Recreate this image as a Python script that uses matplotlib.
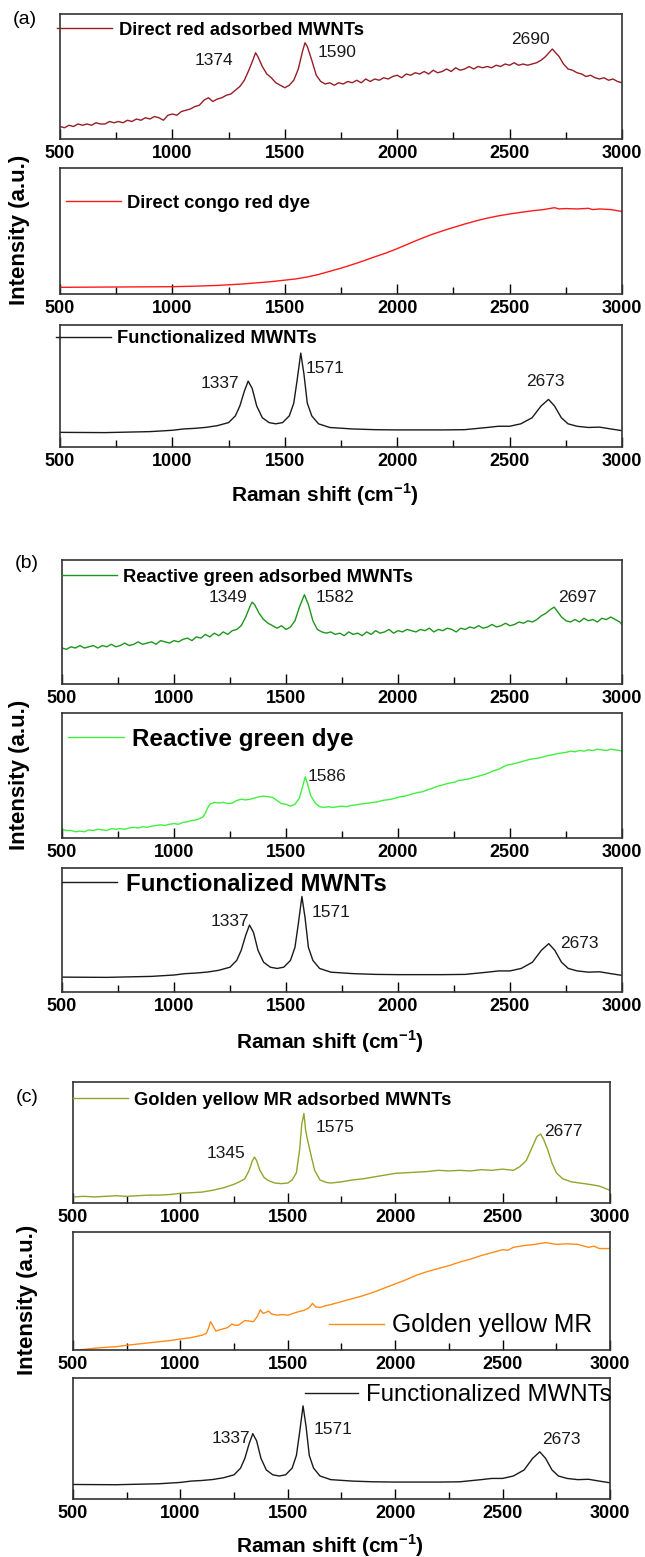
import matplotlib
matplotlib.use('Agg')
import matplotlib.pyplot as plt
from matplotlib.ticker import MultipleLocator

plt.rcParams['font.family'] = ['Liberation Sans', 'DejaVu Sans']
plt.rcParams['mathtext.fontset'] = 'custom'
plt.rcParams['mathtext.rm'] = 'Liberation Sans'
plt.rcParams['mathtext.bf'] = 'Liberation Sans:bold'

# ---------------- data (intensity in % of panel height) ----------------
direct_red_mwnt = [
    (500, 10), (520, 9), (540, 11), (560, 10), (580, 12), (600, 11), (620, 12), (640, 11),
    (660, 13), (680, 12), (700, 12), (720, 14), (740, 13), (760, 14), (780, 13), (800, 15),
    (820, 14), (840, 16), (860, 15), (880, 17), (900, 16), (920, 18), (940, 17), (960, 15),
    (980, 19), (1000, 20), (1020, 19), (1040, 22), (1060, 23), (1080, 24), (1100, 26),
    (1120, 27), (1140, 31), (1160, 33), (1180, 30), (1200, 32), (1220, 33), (1240, 35),
    (1260, 36), (1280, 39), (1300, 42), (1320, 47), (1340, 55), (1360, 64), (1370, 69),
    (1380, 66), (1400, 58), (1420, 52), (1440, 49), (1460, 45), (1480, 43), (1500, 41),
    (1520, 43), (1540, 47), (1560, 56), (1580, 71), (1590, 77), (1600, 74), (1620, 63),
    (1640, 51), (1660, 46), (1680, 44), (1700, 45), (1720, 43), (1740, 45), (1760, 44),
    (1780, 46), (1800, 45), (1820, 47), (1840, 45), (1860, 48), (1880, 46), (1900, 48),
    (1920, 47), (1940, 49), (1960, 48), (1980, 50), (2000, 51), (2020, 49), (2040, 52),
    (2060, 51), (2080, 53), (2100, 52), (2120, 54), (2140, 52), (2160, 55), (2180, 53),
    (2200, 54), (2220, 56), (2240, 54), (2260, 57), (2280, 55), (2300, 56), (2320, 58),
    (2340, 56), (2360, 58), (2380, 57), (2400, 58), (2420, 57), (2440, 59), (2460, 58),
    (2480, 60), (2500, 59), (2520, 61), (2540, 59), (2560, 60), (2580, 59), (2600, 60),
    (2620, 61), (2640, 63), (2660, 66), (2680, 70), (2690, 72), (2700, 70), (2720, 66),
    (2740, 60), (2760, 56), (2780, 55), (2800, 53), (2820, 52), (2840, 50), (2860, 51),
    (2880, 49), (2900, 48), (2920, 49), (2940, 47), (2960, 48), (2980, 46), (3000, 45),
]

congo_red_dye = [
    (500, 5.3), (600, 5.4), (700, 5.5), (800, 5.6), (900, 5.7), (1000, 5.8), (1100, 6.2),
    (1200, 6.8), (1300, 7.8), (1400, 9.2), (1450, 10), (1500, 11), (1550, 12), (1600, 13.5),
    (1650, 15.5), (1700, 18), (1750, 20.5), (1800, 23.3), (1850, 26.3), (1900, 29.5),
    (1950, 32.5), (2000, 36), (2050, 39.8), (2100, 43.5), (2150, 47), (2200, 50),
    (2250, 52.8), (2300, 55.5), (2350, 58), (2400, 60.2), (2450, 62), (2500, 63.5),
    (2550, 64.8), (2600, 66), (2650, 67), (2700, 68.5), (2720, 67.5), (2750, 67.8),
    (2800, 67.5), (2850, 68), (2870, 67), (2900, 67.5), (2950, 67), (3000, 65.5),
]

functionalized_mwnt = [
    (500, 12), (700, 11.8), (900, 12.6), (1000, 13.7), (1050, 14.8), (1100, 15.3),
    (1150, 16.1), (1200, 17.5), (1250, 20), (1280, 25.5), (1300, 33.6), (1320, 45.7),
    (1337, 54), (1355, 48), (1375, 33.6), (1400, 24), (1430, 20), (1460, 19), (1490, 20),
    (1520, 25.5), (1540, 36), (1555, 55), (1571, 77), (1585, 60), (1600, 36), (1620, 25.5),
    (1650, 19), (1700, 16), (1800, 14.8), (1900, 14.2), (2000, 14), (2100, 14), (2200, 14),
    (2300, 14.2), (2400, 16), (2450, 17), (2500, 17), (2550, 19), (2600, 24), (2640, 33.6),
    (2673, 39), (2700, 33.6), (2730, 24), (2760, 19), (2800, 17), (2850, 16), (2900, 16.3),
    (2950, 14.8), (3000, 13.4),
]

reactive_green_mwnt = [
    (500, 29), (520, 28), (540, 30), (560, 29), (580, 31), (600, 29), (620, 30), (640, 31),
    (660, 29), (680, 31), (700, 30), (720, 32), (740, 30), (760, 31), (780, 33), (800, 31),
    (820, 32), (840, 34), (860, 32), (880, 33), (900, 34), (920, 32), (940, 35), (960, 34),
    (980, 33), (1000, 35), (1020, 34), (1040, 36), (1060, 37), (1080, 35), (1100, 38),
    (1120, 37), (1140, 40), (1160, 38), (1180, 41), (1200, 39), (1220, 42), (1240, 40),
    (1260, 43), (1280, 44), (1300, 47), (1320, 54), (1340, 63), (1349, 66), (1360, 64),
    (1380, 57), (1400, 52), (1420, 49), (1440, 47), (1460, 45), (1480, 47), (1500, 44),
    (1520, 46), (1540, 51), (1560, 62), (1582, 72), (1600, 64), (1620, 51), (1640, 44),
    (1660, 42), (1680, 41), (1700, 42), (1720, 40), (1740, 41), (1760, 39), (1780, 42),
    (1800, 40), (1820, 41), (1840, 39), (1860, 42), (1880, 40), (1900, 43), (1920, 41),
    (1940, 42), (1960, 44), (1980, 41), (2000, 43), (2020, 42), (2040, 44), (2060, 43),
    (2080, 42), (2100, 44), (2120, 43), (2140, 45), (2160, 42), (2180, 44), (2200, 43),
    (2220, 45), (2240, 44), (2260, 42), (2280, 45), (2300, 44), (2320, 46), (2340, 45),
    (2360, 47), (2380, 45), (2400, 46), (2420, 48), (2440, 46), (2460, 47), (2480, 49),
    (2500, 47), (2520, 48), (2540, 50), (2560, 49), (2580, 51), (2600, 50), (2620, 52),
    (2640, 55), (2660, 57), (2680, 60), (2697, 62), (2710, 59), (2730, 54), (2750, 51),
    (2770, 50), (2790, 52), (2810, 50), (2830, 53), (2850, 51), (2870, 52), (2890, 50),
    (2910, 53), (2930, 52), (2950, 54), (2970, 52), (2990, 50), (3000, 48),
]

reactive_green_dye = [
    (500, 7), (520, 6), (540, 6), (560, 5), (580, 5.5), (600, 5), (620, 6.5), (640, 6),
    (660, 7), (680, 6.5), (700, 6), (720, 7.5), (740, 7), (760, 7.5), (780, 7), (800, 8),
    (820, 8.5), (840, 8), (860, 9), (880, 8.5), (900, 9.5), (920, 10), (940, 10.5),
    (960, 10), (980, 11), (1000, 11.5), (1020, 11), (1040, 12.5), (1060, 13), (1080, 14),
    (1100, 14.5), (1120, 16), (1130, 17), (1140, 20), (1150, 24), (1160, 27), (1180, 28.5),
    (1200, 28), (1220, 28.5), (1240, 27.5), (1260, 28), (1280, 30), (1300, 31),
    (1320, 30.5), (1340, 31), (1360, 32), (1380, 33), (1400, 33.5), (1420, 33),
    (1440, 32.5), (1460, 30), (1480, 27.5), (1500, 27), (1520, 25.5), (1540, 27),
    (1560, 32), (1575, 42), (1586, 49), (1595, 44), (1610, 34), (1630, 28), (1650, 25),
    (1670, 24.5), (1690, 25), (1710, 24.5), (1730, 25), (1750, 25.5), (1770, 25),
    (1790, 26), (1810, 26.5), (1830, 27), (1850, 27.5), (1870, 28), (1890, 28.5),
    (1910, 29), (1930, 30), (1950, 30.5), (1970, 31), (1990, 32), (2010, 33), (2030, 33.5),
    (2050, 34.5), (2070, 35.5), (2090, 36.5), (2110, 37), (2130, 38.5), (2150, 39.5),
    (2170, 41), (2190, 42), (2210, 43), (2230, 44), (2250, 44.5), (2270, 46), (2290, 46.5),
    (2310, 47), (2330, 48), (2350, 49), (2370, 50), (2390, 51), (2410, 52.5), (2430, 54),
    (2450, 55), (2470, 57), (2490, 58.5), (2510, 59), (2530, 60), (2550, 61), (2570, 62),
    (2590, 63), (2610, 63.5), (2630, 64), (2650, 65), (2670, 66), (2690, 66.5),
    (2710, 67.5), (2730, 68), (2750, 68.5), (2770, 69.5), (2790, 69), (2810, 70),
    (2830, 69.5), (2850, 70.5), (2870, 70), (2890, 71), (2910, 70.5), (2930, 70),
    (2950, 71), (2970, 70.5), (2990, 70), (3000, 69.5),
]

golden_yellow_mwnt = [
    (500, 5), (550, 5.5), (600, 5), (650, 5.5), (700, 6), (750, 5.5), (800, 6), (850, 6.5),
    (900, 6.5), (950, 7), (1000, 8), (1050, 8.5), (1100, 9), (1150, 10.5), (1200, 12.5),
    (1250, 15.5), (1280, 18), (1300, 20), (1320, 27), (1335, 35), (1345, 38), (1355, 35),
    (1370, 27), (1390, 21), (1410, 18.5), (1440, 16.5), (1470, 16), (1500, 16.5),
    (1520, 19), (1540, 25), (1555, 44), (1565, 65), (1575, 74), (1583, 60), (1592, 52),
    (1600, 46), (1610, 38), (1625, 27), (1650, 19), (1680, 17), (1700, 16.5), (1750, 17.5),
    (1800, 19), (1850, 20), (1900, 21.5), (1950, 23), (2000, 24.5), (2050, 25), (2100, 25.5),
    (2150, 26), (2200, 27), (2250, 26.5), (2300, 27), (2350, 26.5), (2400, 27.5),
    (2450, 27), (2500, 28), (2550, 27), (2580, 30), (2610, 35), (2635, 45), (2660, 55),
    (2677, 57), (2690, 53), (2710, 44), (2730, 33), (2750, 25), (2780, 20), (2820, 17.5),
    (2860, 16.5), (2900, 15.5), (2950, 14), (3000, 10.5),
]

golden_yellow_dye = [
    (500, -0.5), (550, 0.5), (600, 1.5), (650, 2.2), (700, 2.8), (750, 4), (800, 5),
    (850, 6), (900, 7), (950, 8), (1000, 9.3), (1050, 10.5), (1100, 12.5), (1120, 14),
    (1130, 18), (1140, 24), (1150, 21), (1165, 16), (1180, 17), (1200, 18), (1220, 19),
    (1240, 22), (1255, 21), (1270, 21), (1300, 25), (1320, 24.5), (1340, 24), (1360, 29),
    (1372, 34), (1385, 31), (1400, 32), (1410, 33), (1425, 30.5), (1450, 29.5),
    (1475, 30), (1500, 29.5), (1525, 31), (1550, 32.5), (1575, 33.5), (1600, 36),
    (1615, 39.5), (1630, 36.5), (1650, 36), (1675, 37.5), (1700, 38.5), (1750, 41),
    (1800, 43.5), (1850, 46), (1900, 49), (1950, 52.5), (2000, 56), (2050, 59.5),
    (2100, 63.5), (2150, 66.5), (2200, 69), (2250, 71.5), (2300, 74.5), (2350, 77),
    (2400, 80), (2450, 82.5), (2500, 85), (2525, 84.5), (2550, 87), (2600, 88.5),
    (2650, 89.5), (2700, 91), (2750, 89.5), (2800, 90), (2850, 89.5), (2900, 87),
    (2925, 88), (2950, 86), (3000, 86),
]

x_ticks = [500, 1000, 1500, 2000, 2500, 3000]
x_tick_labels = ['500', '1000', '1500', '2000', '2500', '3000']

panels = [
    # group (a)
    dict(box=(60, 622, 14, 139), data=direct_red_mwnt, color='#961E28',
         label='Direct red adsorbed MWNTs', w='bold', fs=13.2, anchor=(-0.005, 0.87), hl=3.0,
         peaks=[('1374', 1186, 63), ('1590', 1734, 69.5), ('2690', 2593, 80)]),
    dict(box=(60, 622, 168, 294), data=congo_red_dye, color='#FF1A1A',
         label='Direct congo red dye', w='bold', fs=13.2, anchor=(0.01, 0.72), hl=3.0, peaks=[]),
    dict(box=(60, 622, 325, 447), data=functionalized_mwnt, color='#1A1A1A',
         label='Functionalized MWNTs', w='bold', fs=13.2, anchor=(-0.007, 0.89), hl=3.0,
         peaks=[('1337', 1213, 52), ('1571', 1679, 64.5), ('2673', 2657, 54)]),
    # group (b)
    dict(box=(62, 622, 560, 684), data=reactive_green_mwnt, color='#1E961E',
         label='Reactive green adsorbed MWNTs', w='bold', fs=13.2, anchor=(0.0, 0.86), hl=3.0,
         peaks=[('1349', 1240, 70), ('1582', 1718, 70), ('2697', 2802, 70)]),
    dict(box=(62, 622, 713, 838), data=reactive_green_dye, color='#40F040',
         label='Reactive green dye', w='bold', fs=17.5, anchor=(0.01, 0.79), hl=2.3,
         peaks=[('1586', 1685, 49)]),
    dict(box=(62, 622, 868, 992), data=functionalized_mwnt, color='#1A1A1A',
         label='Functionalized MWNTs', w='bold', fs=17.3, anchor=(0.0, 0.87), hl=2.3,
         peaks=[('1337', 1249, 56.5), ('1571', 1699, 64.5), ('2673', 2811, 39)]),
    # group (c)
    dict(box=(73, 610, 1082, 1203), data=golden_yellow_mwnt, color='#8CA82A',
         label='Golden yellow MR adsorbed MWNTs', w='bold', fs=13.2, anchor=(0.0, 0.85), hl=3.0,
         peaks=[('1345', 1214, 41), ('1575', 1721, 62), ('2677', 2784, 59)]),
    dict(box=(73, 610, 1232, 1350), data=golden_yellow_dye, color='#FF8C1A',
         label='Golden yellow MR', w='normal', fs=17.8, anchor=(0.477, 0.21), hl=2.2, peaks=[]),
    dict(box=(73, 610, 1378, 1499), data=functionalized_mwnt, color='#1A1A1A',
         label='Functionalized MWNTs', w='normal', fs=17.3, anchor=(0.432, 0.86), hl=2.2,
         peaks=[('1337', 1233, 50), ('1571', 1712, 57.7), ('2673', 2774, 49)]),
]

W, H = 645, 1557
fig = plt.figure(figsize=(W / 100, H / 100), dpi=100)

for p in panels:
    x0, x1, y0, y1 = p['box']
    ax = fig.add_axes([x0 / W, 1 - y1 / H, (x1 - x0) / W, (y1 - y0) / H])
    xs = [d[0] for d in p['data']]
    ys = [d[1] for d in p['data']]
    ax.plot(xs, ys, color=p['color'], lw=1.0, label=p['label'])
    ax.set_xlim(500, 3000)
    ax.set_ylim(0, 100)
    ax.set_yticks([])
    ax.set_xticks(x_ticks)
    ax.set_xticklabels(x_tick_labels, fontsize=13, fontweight='bold')
    ax.xaxis.set_minor_locator(MultipleLocator(250))
    ax.tick_params(axis='x', which='both', direction='in', top=False, pad=4)
    ax.tick_params(axis='x', which='major', length=7, width=1)
    ax.tick_params(axis='x', which='minor', length=5, width=1)
    for s in ax.spines.values():
        s.set_color('#333333')
        s.set_linewidth(1.2)
    ax.legend(loc='center left', bbox_to_anchor=p['anchor'], frameon=False,
              prop={'size': p['fs'], 'weight': p['w']}, handlelength=p['hl'],
              handletextpad=0.35, borderpad=0, borderaxespad=0)
    for txt, px, py in p['peaks']:
        ax.text(px, py, txt, ha='center', va='center', fontsize=12.5, color='#1A1A1A')

for txt, x, y in [('(a)', 25, 20), ('(b)', 27, 563), ('(c)', 27, 1098)]:
    fig.text(x / W, 1 - y / H, txt, ha='center', va='center', fontsize=14)

for x, y in [(20, 230), (20, 775), (28, 1300)]:
    fig.text(x / W, 1 - y / H, 'Intensity (a.u.)', rotation=90, ha='center', va='center',
             fontsize=16, fontweight='bold')

for x, y in [(325, 495), (330, 1042), (330, 1546)]:
    fig.text(x / W, 1 - y / H, r'Raman shift (cm$^{\mathbf{-1}}$)', ha='center', va='center',
             fontsize=15, fontweight='bold')

fig.savefig('out.png', dpi=100, facecolor='white')
